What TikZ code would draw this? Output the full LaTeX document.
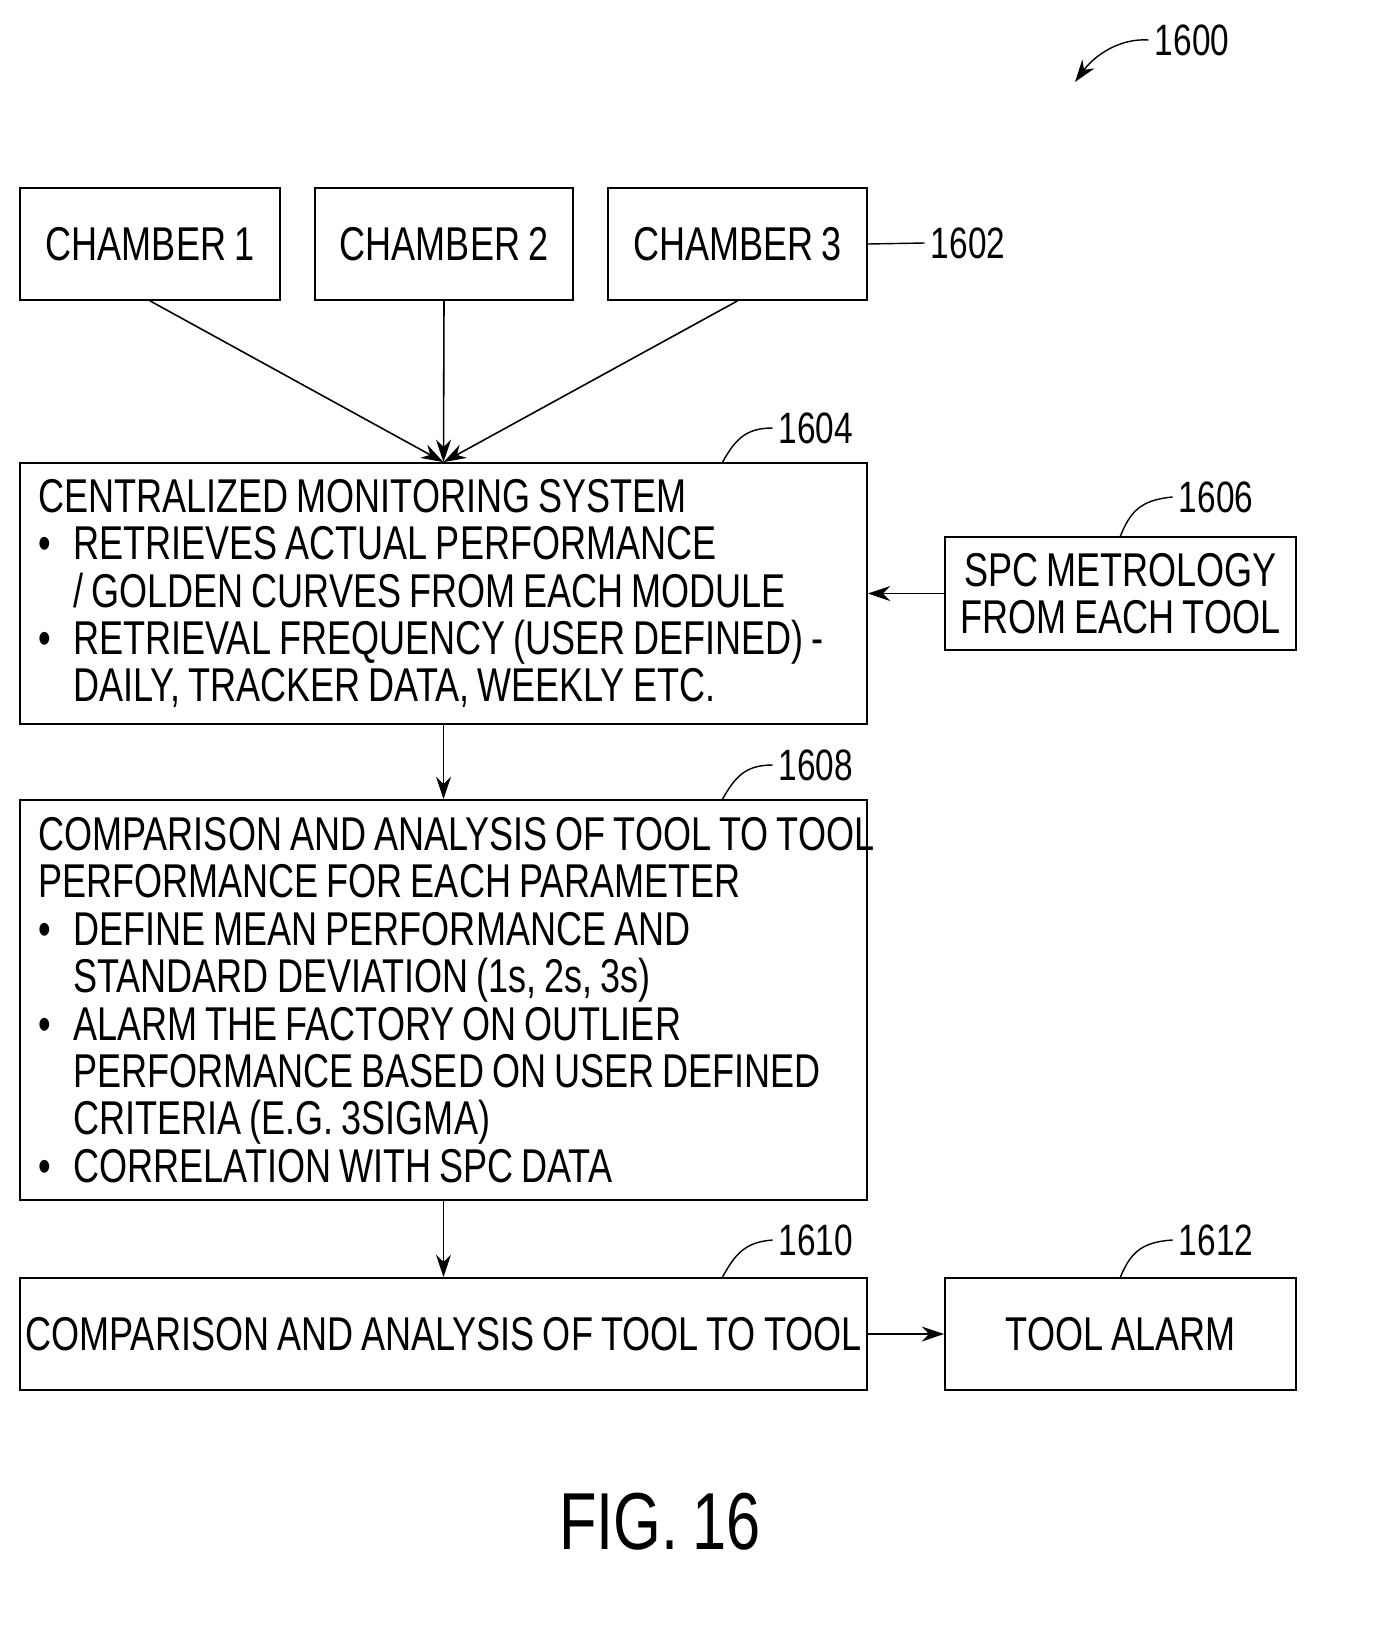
\documentclass[tikz,border=0pt]{standalone}
\usepackage{fontspec}
\setmainfont{Liberation Sans}[FakeStretch=0.76,WordSpace=0.8]
\usetikzlibrary{arrows.meta,positioning}
\newcommand{\blt}{\makebox[0.7cm][l]{\textbullet}}
\newcommand{\ind}{\makebox[0.7cm][l]{}}
\begin{document}
\begin{tikzpicture}[x=0.02cm,y=-0.02cm,>={Stealth[length=0.45cm,width=0.3cm]},
  box/.style={draw, line width=1pt, inner sep=0pt},
  txt/.style={font=\fontsize{27}{27}\selectfont, align=left},
  num/.style={font=\fontsize{25}{28}\selectfont},
  lead/.style={line width=0.8pt},
  flow/.style={->, line width=0.9pt}]
\useasboundingbox (0,0) rectangle (1380,1643);

% chambers
\node[box, minimum width=5.2cm, minimum height=2.24cm, txt] (ch1) at (150,244) {CHAMBER 1};
\node[box, minimum width=5.16cm, minimum height=2.24cm, txt] (ch2) at (444,244) {CHAMBER 2};
\node[box, minimum width=5.18cm, minimum height=2.24cm, txt] (ch3) at (737.5,244) {CHAMBER 3};
\node[num] (n1602) at (968,243) {1602};
\draw[lead] (ch3.east) -- (n1602.west);

% monitoring
\node[box, minimum width=16.94cm, minimum height=5.22cm] (cms) at (443.5,593.5) {};
\node[txt, anchor=west] (cmstxt) at ([xshift=0.26cm]cms.west) {CENTRALIZED MONITORING SYSTEM\\
\blt RETRIEVES ACTUAL PERFORMANCE\\
\ind / GOLDEN CURVES FROM EACH MODULE\\
\blt RETRIEVAL FREQUENCY (USER DEFINED) -\\
\ind DAILY, TRACKER DATA, WEEKLY ETC.};
\node[num] (n1604) at (816,428) {1604};
\coordinate (c1604) at (722,463);
\draw[lead] (c1604) .. controls (735,440) and (745,428) .. (n1604.west);

\node[box, minimum width=7.02cm, minimum height=2.26cm, txt, align=center] (spc) at (1120.5,593.5) {SPC METROLOGY\\FROM EACH TOOL};
\node[num] (n1606) at (1216,497) {1606};
\coordinate (c1606) at (1120,537);
\draw[lead] (c1606) .. controls (1130,512) and (1140,500) .. (n1606.west);

% comparison
\node[box, minimum width=16.94cm, minimum height=8cm] (cmp) at (443.5,1000) {};
\node[txt, anchor=west] (cmptxt) at ([xshift=0.26cm]cmp.west) {COMPARISON AND ANALYSIS OF TOOL TO TOOL\\
PERFORMANCE FOR EACH PARAMETER\\
\blt DEFINE MEAN PERFORMANCE AND\\
\ind STANDARD DEVIATION (1s, 2s, 3s)\\
\blt ALARM THE FACTORY ON OUTLIER\\
\ind PERFORMANCE BASED ON USER DEFINED\\
\ind CRITERIA (E.G. 3SIGMA)\\
\blt CORRELATION WITH SPC DATA};
\node[num] (n1608) at (816,765) {1608};
\coordinate (c1608) at (722,800);
\draw[lead] (c1608) .. controls (735,777) and (745,765) .. (n1608.west);

% bottom row
\node[box, minimum width=16.94cm, minimum height=2.24cm, txt] (res) at (443.5,1334) {COMPARISON AND ANALYSIS OF TOOL TO TOOL};
\node[num] (n1610) at (816,1240) {1610};
\coordinate (c1610) at (722,1278);
\draw[lead] (c1610) .. controls (735,1254) and (745,1242) .. (n1610.west);

\node[box, minimum width=7.02cm, minimum height=2.24cm, txt] (alarm) at (1120.5,1334) {TOOL ALARM};
\node[num] (n1612) at (1216,1240) {1612};
\coordinate (c1612) at (1120,1278);
\draw[lead] (c1612) .. controls (1130,1254) and (1140,1242) .. (n1612.west);

% connectors
\draw[flow] (ch1.south) -- (cms.north);
\draw[flow] (ch2.south) -- (cms.north);
\draw[flow] (ch3.south) -- (cms.north);
\draw[flow] (spc.west) -- (cms.east);
\draw[flow] (cms.south) -- (cmp.north);
\draw[flow] (cmp.south) -- (res.north);
\draw[flow] (res.east) -- (alarm.west);

% figure number
\node[num] (n1600) at (1192,40) {1600};
\coordinate (c1600) at (1075,82);
\draw[lead, ->] (n1600.west) .. controls (1120,38) and (1095,55) .. (c1600);
\node[font=\fontsize{46}{50}\selectfont] (fig) at (660,1522) {FIG. 16};
\end{tikzpicture}
\end{document}
